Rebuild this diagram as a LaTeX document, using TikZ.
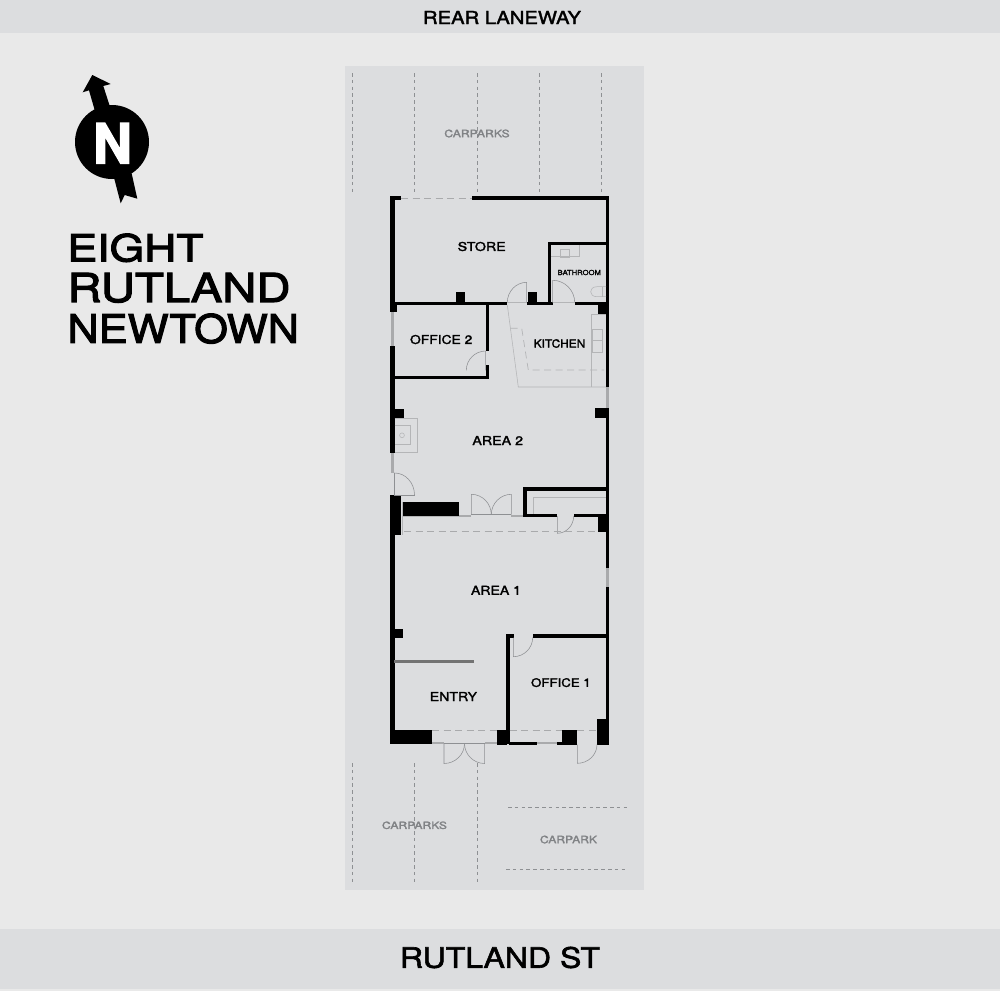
\documentclass[tikz,border=0pt]{standalone}
\usepackage{fontspec}
\usepackage{graphicx}
\usetikzlibrary{calc}
\newfontfamily\widefont[FakeStretch=1.3,FakeBold=2.2]{TeX Gyre Heros}
\newfontfamily\titlefont[FakeStretch=1.3,FakeBold=3]{TeX Gyre Heros}
\newfontfamily\heavyfont[FakeStretch=1.3,FakeBold=3]{TeX Gyre Heros Bold}
\definecolor{bgc}{HTML}{E9E9E9}
\definecolor{sitec}{HTML}{DCDDDF}
\definecolor{thinc}{HTML}{8E9093}
\definecolor{palec}{HTML}{B4B5B7}
\definecolor{glazec}{HTML}{A9AAAC}
\definecolor{parkc}{HTML}{808285}
\newcommand{\wl}[4]{\fill[black] (#1,#2) rectangle (#3,#4);}
\newcommand{\gz}[4]{\fill[glazec] (#1,#2) rectangle (#3,#4);}
% hinge, leaf end, arc end
\newcommand{\doorleaf}[6]{\draw[thinline] (#1,#2) -- (#3,#4) .. controls ($(#3,#4)+.55*(#5,#6)-.55*(#1,#2)$) and ($(#5,#6)+.55*(#3,#4)-.55*(#1,#2)$) .. (#5,#6);}
\newcommand{\lbl}[6][black]{\node[lblnode,text=#1] at (#2,#3) {\resizebox{#4pt}{#5pt}{\widefont #6}};}
\tikzset{
 lblnode/.style={inner sep=0pt,outer sep=0pt},
 thinline/.style={draw=thinc,line width=.55pt},
 paleline/.style={draw=palec,line width=.55pt},
 dashline/.style={draw=thinc,line width=.7pt,dash pattern=on 3.6pt off 3.2pt},
 paledash/.style={draw=glazec,line width=.7pt,dash pattern=on 7pt off 4.5pt},
}
\begin{document}
\begin{tikzpicture}[x=1pt,y=-1pt]
\useasboundingbox (0,0) rectangle (1000,991);
\fill[bgc] (0,0) rectangle (1000,991);
\fill[sitec] (0,0) rectangle (1000,33);
\fill[sitec] (0,929) rectangle (1000,989);
\fill[sitec] (345,66) rectangle (644,890);
% road labels
\lbl{502}{17.5}{158}{13}{REAR LANEWAY}
\lbl{500}{957.5}{200}{21}{RUTLAND ST}
% car parks
\foreach \x in {352.3,414.7,477,539,601.7} \draw[dashline] (\x,73) -- (\x,192);
\foreach \x in {352.3,414.7,477} \draw[dashline] (\x,763) -- (\x,883);
\draw[dashline] (508,807) -- (628,807);
\draw[dashline] (506,869) -- (628,869);
\lbl[parkc]{477}{133.5}{65.4}{7.6}{CARPARKS}
\lbl[parkc]{414.5}{825.3}{65}{7.4}{CARPARKS}
\lbl[parkc]{568.5}{839.5}{57}{7.6}{CARPARK}
% north symbol
\fill[black] (92.3,75) -- (110.7,84) -- (103.3,86) -- (132,175) -- (137.3,198.7) -- (124.7,195) -- (120.7,203.3) -- (113.3,175) -- (89,90.3) -- (82.7,92.3) -- cycle;
\fill[black] (112,142) circle[radius=37];
\node[lblnode,text=white] at (112.5,143.3) {\resizebox{39pt}{40pt}{\heavyfont N}};
% title
\node[lblnode,anchor=west] at (67.5,247.8) {\resizebox{136pt}{27.7pt}{\titlefont EIGHT}};
\node[lblnode,anchor=west] at (67.5,287.8) {\resizebox{223pt}{29pt}{\titlefont RUTLAND}};
\node[lblnode,anchor=west] at (67.5,328.6) {\resizebox{231.5pt}{29.3pt}{\titlefont NEWTOWN}};
% glazing and thresholds
\gz{391}{312}{394}{346}
\gz{391}{453}{394}{473}
\gz{606}{387}{608.5}{408}
\gz{605.5}{568}{608.5}{587}
\gz{459.3}{514.7}{471.3}{516.5}
\gz{511.3}{514.7}{523.3}{516.5}
\gz{432}{741.5}{444}{743.5}
\gz{484.7}{741.5}{497}{743.5}
\gz{536.7}{741.5}{557.3}{743.5}
% outer walls
\wl{390}{196}{394.5}{312}
\wl{390}{346}{394.5}{453}
\wl{390}{196}{401}{200}
\wl{472}{196}{609.3}{200}
\wl{605.7}{196}{609.3}{387}
\wl{605.7}{408}{609.3}{568}
\wl{605.7}{587}{609.3}{744.5}
\wl{390}{535}{394.5}{744}
% piers
\wl{390}{303}{397}{312}
\wl{390}{409}{404}{419}
\wl{390}{495}{400.7}{535}
\wl{403}{502}{459}{516}
\wl{390}{629}{402.7}{638}
\wl{390}{730}{432}{743.5}
\wl{497}{730}{507}{744.5}
\wl{561.7}{730}{577.3}{744.5}
\wl{597}{719}{609.3}{744.5}
\wl{598}{304}{609.3}{314}
\wl{595.3}{408}{609.3}{417.7}
\wl{598}{514}{609.3}{531.7}
\wl{456.3}{292}{465.3}{302.5}
\wl{528.3}{292}{537.3}{302.5}
% store bottom wall
\wl{394}{302.3}{507.3}{305.2}
\wl{526.7}{302.3}{552.7}{305.2}
\wl{574.7}{302.3}{606}{305.2}
% bathroom walls
\wl{547.7}{242.3}{551}{303}
\wl{547.7}{242.3}{606}{245.3}
% office 2
\wl{486}{305}{489}{351}
\wl{486}{365.3}{489}{379}
\wl{394}{376}{489}{379}
% small room by area 2
\wl{523.3}{487.3}{527}{516.7}
\wl{523.3}{487.3}{606}{490.7}
\wl{523.3}{513.7}{557.3}{516.7}
\wl{573.7}{513.7}{598}{516.7}
% office 1
\wl{506}{634}{509.5}{744}
\wl{506}{634}{513.5}{637.5}
\wl{532.7}{634}{609}{637.5}
\wl{509}{741.5}{536.7}{744.5}
\wl{557.3}{741.5}{562}{744.5}
% partition
\fill[black!55] (394,660) rectangle (474,663);
% doors
\doorleaf{394.7}{495}{394.7}{473}{414.5}{495}
\doorleaf{526.7}{302.5}{526.7}{282.3}{507.3}{302.5}
\doorleaf{552.7}{302.5}{552.7}{280.3}{574.7}{302.5}
\doorleaf{485.7}{370.3}{485.7}{351}{466.3}{370.3}
\doorleaf{471.3}{514.7}{471.3}{494.3}{491.3}{514.7}
\doorleaf{511.3}{514.7}{511.3}{494.3}{491.3}{514.7}
\doorleaf{557.3}{516}{557.3}{533.3}{573.7}{516}
\doorleaf{513.3}{637.5}{513.3}{656.7}{532.7}{637.5}
\doorleaf{444}{743.5}{444}{763.5}{464.5}{743.5}
\doorleaf{484.7}{743.5}{484.7}{763.5}{464.5}{743.5}
\doorleaf{577.3}{744.5}{577.3}{763.3}{597}{744.5}
% thin thresholds
\draw[paleline] (507.3,302.5) -- (526.7,302.5);
\draw[paleline] (552.7,302.5) -- (574.7,302.5);
\draw[thinline] (471.3,514.7) -- (511.3,514.7);
\draw[paleline] (403,516.5) -- (459,516.5);
\draw[thinline] (394.7,473) -- (394.7,495) -- (414.5,495);
\draw[paleline] (401.8,502) -- (401.8,535);
\draw[thinline] (444,743.5) -- (484.7,743.5);
% dashed head lines
\draw[paledash] (401,198) -- (472,198);
\draw[paledash] (404,531) -- (598,531);
\draw[paledash] (432,730) -- (497,730);
\draw[paledash] (509.5,730) -- (561.7,730);
\draw[paledash] (577.3,730) -- (597,730);
% kitchen
\draw[paleline] (507.3,305) -- (518.3,387) -- (606,387);
\draw[paleline] (606,314.3) -- (591.3,314.3) -- (591.3,387);
\draw[paleline] (592.5,329) rectangle (602,352);
\draw[paleline] (592.5,340.5) -- (602,340.5);
\draw[paledash,draw=palec] (510.7,328.3) -- (521.7,328.3) -- (528.3,370) -- (604,370);
% bathroom
\draw[paleline] (551,256.3) -- (579.3,256.3) -- (579.3,245.3);
\draw[paleline] (560.3,249.3) rectangle (569.3,257.3);
\draw[paleline] (606,286.7) -- (597,286.7) .. controls (588.5,286.7) and (588.5,296.7) .. (597,296.7) -- (606,296.7);
\draw[paleline] (602,286.7) -- (602,296.7);
% area 2 fittings
\draw[paleline] (394.7,418.7) -- (417.3,418.7) -- (417.3,452.7) -- (394.7,452.7);
\draw[paleline] (394.7,425.7) -- (410.7,425.7) -- (410.7,444.3) -- (394.7,444.3);
\draw[paleline] (402,435.3) circle[radius=2.4];
\draw[paleline] (533.3,513.7) -- (533.3,497.3) -- (606,497.3);
% room labels
\lbl{481.7}{246.5}{48}{9}{STORE}
\lbl{579.3}{272.5}{43.3}{5.2}{BATHROOM}
\lbl{441.2}{339.5}{62.3}{9}{OFFICE 2}
\lbl{559.5}{343.5}{51.6}{8.4}{KITCHEN}
\lbl{497.7}{440.5}{50.7}{9}{AREA 2}
\lbl{496}{590.3}{50}{9}{AREA 1}
\lbl{453.4}{696.5}{47.3}{9}{ENTRY}
\lbl{560.9}{682.6}{59.7}{8.7}{OFFICE 1}
\end{tikzpicture}
\end{document}
